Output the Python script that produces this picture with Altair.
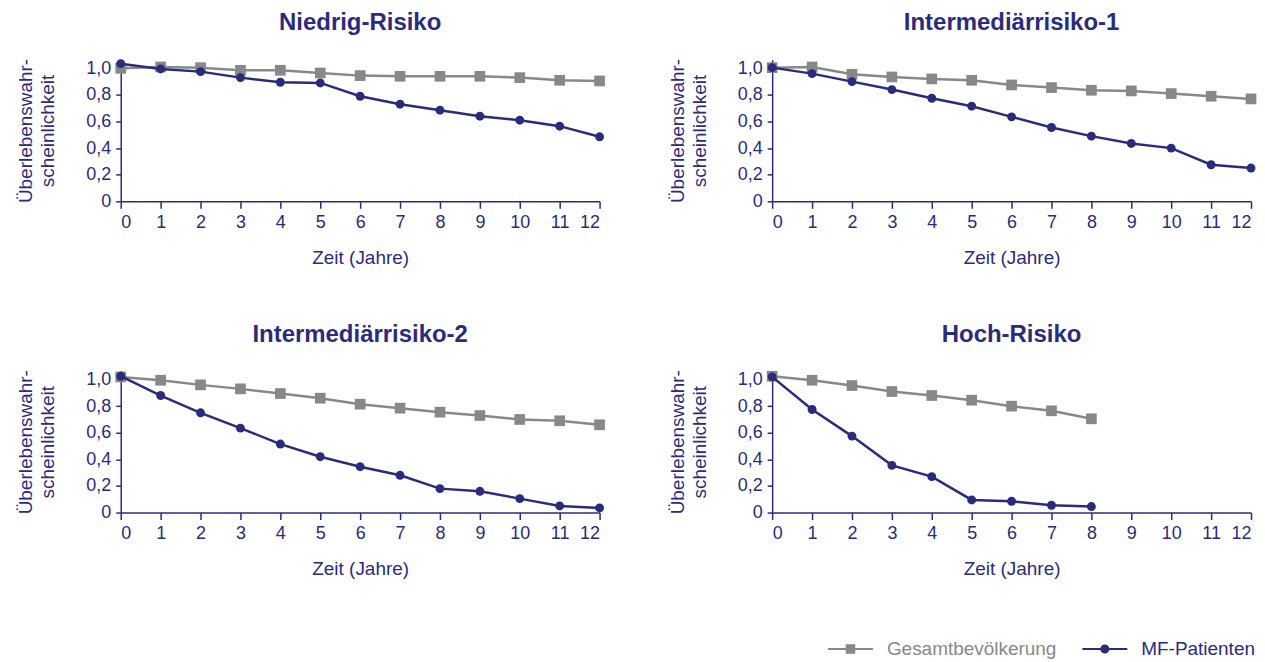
import altair as alt
import pandas as pd

NAVY = "#2b2b7b"
GRAY = "#86888a"
FONT = "Liberation Sans"

SERIES = ["Gesamtbevölkerung", "MF-Patienten"]
YTITLE = ["Überlebenswahr-", "scheinlichkeit"]
XTITLE = "Zeit (Jahre)"
X_TICKS = list(range(13))
Y_TICKS = [0, 0.2, 0.4, 0.6, 0.8, 1.0]

titles = ["Niedrig-Risiko", "Intermediärrisiko-1", "Intermediärrisiko-2", "Hoch-Risiko"]

years_12 = list(range(13))
years_8 = list(range(9))

niedrig_ges = [1.00, 1.01, 1.005, 0.985, 0.985, 0.965, 0.945, 0.94, 0.94, 0.94, 0.93, 0.91, 0.905]
niedrig_mf = [1.035, 0.995, 0.975, 0.93, 0.895, 0.89, 0.79, 0.73, 0.685, 0.64, 0.61, 0.565, 0.485]

inter1_ges = [1.005, 1.01, 0.955, 0.935, 0.92, 0.91, 0.875, 0.855, 0.835, 0.83, 0.81, 0.79, 0.77]
inter1_mf = [1.005, 0.96, 0.90, 0.84, 0.775, 0.715, 0.635, 0.555, 0.49, 0.435, 0.40, 0.275, 0.25]

inter2_ges = [1.02, 0.995, 0.96, 0.93, 0.895, 0.86, 0.815, 0.785, 0.755, 0.73, 0.70, 0.69, 0.66]
inter2_mf = [1.025, 0.88, 0.75, 0.635, 0.515, 0.42, 0.345, 0.28, 0.18, 0.16, 0.105, 0.05, 0.035]

hoch_ges = [1.025, 0.995, 0.955, 0.91, 0.88, 0.845, 0.80, 0.765, 0.705]
hoch_mf = [1.02, 0.775, 0.575, 0.355, 0.27, 0.095, 0.085, 0.055, 0.045]

# legend symbols: line + square / line + circle
PATH_GES = "M-3.75,-0.17H3.75V0.17H-3.75Z M-0.8,-0.8H0.8V0.8H-0.8Z"
PATH_MF = "M-3.75,-0.17H3.75V0.17H-3.75Z M0.75,0A0.75,0.75,0,1,1,-0.75,0A0.75,0.75,0,1,1,0.75,0Z"


def make_df(years, ges, mf):
    rows = [{"Zeit": t, "Wert": v, "Serie": SERIES[0]} for t, v in zip(years, ges)]
    rows += [{"Zeit": t, "Wert": v, "Serie": SERIES[1]} for t, v in zip(years, mf)]
    return pd.DataFrame(rows)


panels_data = [
    make_df(years_12, niedrig_ges, niedrig_mf),
    make_df(years_12, inter1_ges, inter1_mf),
    make_df(years_12, inter2_ges, inter2_mf),
    make_df(years_8, hoch_ges, hoch_mf),
]

x_enc = alt.X(
    "Zeit:Q",
    scale=alt.Scale(domain=[0, 12], nice=False, zero=False),
    axis=alt.Axis(values=X_TICKS, title=XTITLE, tickSize=7, labelPadding=5,
                  titlePadding=17, format="d"),
)
y_enc = alt.Y(
    "Wert:Q",
    scale=alt.Scale(domain=[0, 1.065], nice=False),
    axis=alt.Axis(values=Y_TICKS, title=YTITLE, tickSize=5, labelPadding=5,
                  titlePadding=28,
                  labelExpr="datum.value == 0 ? '0' : replace(format(datum.value, '.1f'), '.', ',')"),
)


def panel(title, df, with_legend):
    base = alt.Chart(df)
    ges = base.transform_filter(f"datum.Serie == '{SERIES[0]}'")
    mf = base.transform_filter(f"datum.Serie == '{SERIES[1]}'")
    layers = [
        ges.mark_line(color=GRAY, strokeWidth=2.5).encode(x=x_enc, y=y_enc),
        ges.mark_point(shape="square", filled=True, size=115, color=GRAY, opacity=1).encode(x=x_enc, y=y_enc),
        mf.mark_line(color=NAVY, strokeWidth=2.5).encode(x=x_enc, y=y_enc),
        mf.mark_point(shape="circle", filled=True, size=80, color=NAVY, opacity=1).encode(x=x_enc, y=y_enc),
    ]
    if with_legend:
        layers.append(
            base.transform_filter("false").mark_point(filled=True, opacity=1).encode(
                x=x_enc, y=y_enc,
                color=alt.Color("Serie:N", scale=alt.Scale(domain=SERIES, range=[GRAY, NAVY]), title=None),
                shape=alt.Shape("Serie:N", scale=alt.Scale(domain=SERIES, range=[PATH_GES, PATH_MF]), title=None),
            )
        )
    return alt.layer(*layers).properties(
        width=480, height=142,
        title=alt.TitleParams(title, fontSize=24, fontWeight="bold", color=NAVY, font=FONT,
                              offset=23, anchor="middle", frame="group"),
    )


chart = alt.concat(
    *[panel(t, d, i == 0) for i, (t, d) in enumerate(zip(titles, panels_data))],
    columns=2,
    spacing={"row": 55, "column": 62},
).properties(
    padding={"left": 8, "top": 2, "right": 0, "bottom": 0},
).configure_view(
    stroke=None
).configure_axis(
    grid=False,
    domainColor=NAVY, domainWidth=1.5,
    tickColor=NAVY, tickWidth=1.5,
    labelColor=NAVY, labelFont=FONT, labelFontSize=18,
    titleColor=NAVY, titleFont=FONT, titleFontSize=19, titleFontWeight="normal",
    titleLineHeight=22,
).configure_legend(
    orient="none", legendX=722, legendY=581, direction="horizontal", padding=0,
    symbolSize=144, symbolStrokeWidth=0, symbolOpacity=1, labelLimit=400,
    labelFont=FONT, labelFontSize=19, labelOffset=27, columnPadding=25,
    labelColor={"expr": f"datum.value == '{SERIES[1]}' ? '{NAVY}' : '{GRAY}'"},
)

chart.save("out.html", embed_options={"renderer": "svg", "actions": False})
